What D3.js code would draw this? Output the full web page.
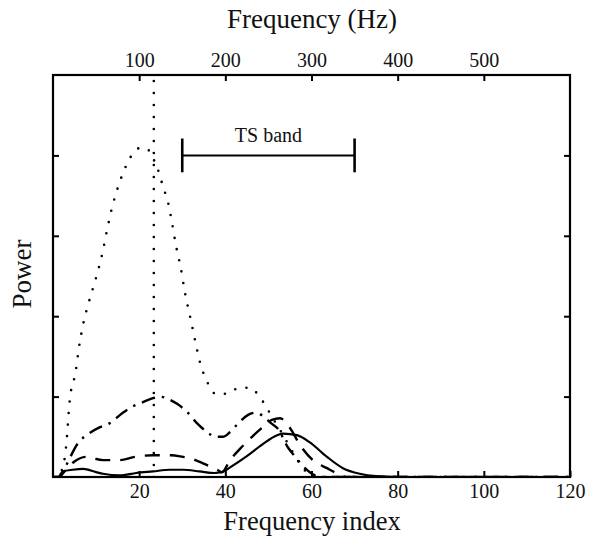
<!DOCTYPE html>
<html>
<head>
<meta charset="utf-8">
<script src="https://cdn.jsdelivr.net/npm/d3@7"></script>
<style>
  html, body { margin: 0; padding: 0; background: #fff; }
  svg { display: block; }
  text { font-family: "Liberation Serif", "Times New Roman", "DejaVu Serif", serif; fill: #111; }
</style>
</head>
<body>
<svg id="chart" width="589" height="538"></svg>
<script>
// Spectral power per frequency index (1 index = 5 Hz)
const dottedIdx = [0, 2.1, 3.0, 3.9, 5.3, 6.0, 7.0, 8.4, 10.0, 11.4, 12.5, 13.7, 15.3, 17.4, 18.8, 20.6, 23.0, 23.7, 24.8, 25.5, 26.5, 27.6, 28.5, 29.7, 30.6, 31.8, 32.9, 34.1, 35.0, 36.2, 37.8, 40.6, 43.2, 45.7, 47.8, 49.4, 50.8, 53.0, 55.0, 56.4, 58.5, 61, 120];
const dottedPow = [0, 0.09, 0.36, 0.96, 1.32, 1.60, 1.90, 2.19, 2.48, 2.77, 3.06, 3.35, 3.64, 3.92, 4.04, 4.10, 4.02, 3.89, 3.76, 3.61, 3.46, 3.17, 2.89, 2.59, 2.30, 2.00, 1.72, 1.43, 1.28, 1.14, 1.03, 1.04, 1.11, 1.11, 1.01, 0.88, 0.75, 0.56, 0.37, 0.24, 0.08, 0, 0];

const dashDotIdx = [0, 1.5, 2.8, 5.8, 8.6, 10.9, 13.2, 16.2, 18.6, 20.4, 23.2, 24.8, 26.7, 28.8, 31.1, 33.4, 35.5, 37.8, 39.4, 41.1, 43.2, 45.2, 47.1, 48.7, 50.6, 52.2, 54.5, 56.1, 58.5, 60.8, 63, 120];
const dashDotPow = [0, 0, 0.12, 0.42, 0.55, 0.62, 0.67, 0.80, 0.88, 0.92, 0.98, 1.00, 0.97, 0.91, 0.81, 0.67, 0.57, 0.50, 0.50, 0.56, 0.68, 0.77, 0.80, 0.76, 0.67, 0.60, 0.37, 0.26, 0.11, 0.02, 0, 0];

const dashedIdx = [0, 1.2, 3.0, 4.9, 7.7, 11.6, 15.5, 19.0, 23.2, 27.4, 30.2, 31.3, 34.8, 38.1, 39.2, 41.1, 43.4, 46.2, 48.7, 50.8, 52.7, 55.0, 57.3, 60.3, 63.6, 66.1, 68, 120];
const dashedPow = [0, 0, 0.09, 0.19, 0.25, 0.21, 0.21, 0.25, 0.27, 0.27, 0.25, 0.24, 0.17, 0.09, 0.06, 0.21, 0.35, 0.50, 0.62, 0.71, 0.73, 0.61, 0.40, 0.21, 0.11, 0.04, 0, 0];

const solidIdx = [0, 1.2, 2.3, 4.6, 7.0, 10.0, 11.6, 15.5, 19.3, 23.2, 27.1, 30.2, 34.0, 37.5, 39.2, 41.1, 45.0, 48.7, 52.0, 53.4, 56.6, 59.6, 63.6, 67.3, 71.2, 75.0, 80, 120];
const solidPow = [0, 0, 0.07, 0.09, 0.10, 0.06, 0.04, 0.02, 0.05, 0.07, 0.09, 0.09, 0.07, 0.05, 0.06, 0.12, 0.26, 0.41, 0.52, 0.54, 0.52, 0.43, 0.25, 0.11, 0.04, 0.01, 0, 0];

// Fundamental-frequency marker and TS band (Hz)
const f0Index = 23.4;
const tsBandHz = [150, 350];
const tsBandLevel = 4.0;
const tsBandLabel = "TS band";

// Axis ticks
const indexTicks = [20, 40, 60, 80, 100, 120];
const hzTicks = [100, 200, 300, 400, 500];
const powerTicks = [1, 2, 3, 4];

const serif = "'Liberation Serif', 'Times New Roman', 'DejaVu Serif', serif";
const svg = d3.select("#chart");
const plotL = 53, plotT = 75, plotR = 570, plotB = 477;

const x = d3.scaleLinear().domain([0, 120]).range([plotL, plotR]);
const xHz = d3.scaleLinear().domain([0, 600]).range([plotL, plotR]);
const y = d3.scaleLinear().domain([0, 5]).range([plotB, plotT]);

svg.append("defs").append("clipPath").attr("id", "plot-clip")
  .append("rect").attr("x", plotL).attr("y", plotT).attr("width", plotR - plotL).attr("height", plotB - plotT);

const line = d3.line().curve(d3.curveMonotoneX);
const pts = (xs, ys) => xs.map((d, i) => [x(d), y(ys[i])]);

const plot = svg.append("g").attr("clip-path", "url(#plot-clip)");

// Solid curve
plot.append("path").attr("d", line(pts(solidIdx, solidPow)))
  .attr("fill", "none").attr("stroke", "#000").attr("stroke-width", 2.2);

// Dashed curve
plot.append("path").attr("d", line(pts(dashedIdx, dashedPow)))
  .attr("fill", "none").attr("stroke", "#000").attr("stroke-width", 2.4)
  .attr("stroke-dasharray", "15 10");

// Dash-dot curve
plot.append("path").attr("d", line(pts(dashDotIdx, dashDotPow)))
  .attr("fill", "none").attr("stroke", "#000").attr("stroke-width", 2.4)
  .attr("stroke-dasharray", "14 7 2.4 7");

// Dotted curve
plot.append("path").attr("d", line(pts(dottedIdx, dottedPow)))
  .attr("fill", "none").attr("stroke", "#000").attr("stroke-width", 2.6)
  .attr("stroke-linecap", "round").attr("stroke-dasharray", "0 11.5");

// Dotted F0 marker
plot.append("line")
  .attr("x1", x(f0Index)).attr("x2", x(f0Index))
  .attr("y1", y(0)).attr("y2", y(5))
  .attr("stroke", "#000").attr("stroke-width", 2.6)
  .attr("stroke-linecap", "round").attr("stroke-dasharray", "0 12");

// TS band bracket
const band = svg.append("g").attr("stroke", "#000").attr("stroke-width", 2);
band.append("line").attr("x1", xHz(tsBandHz[0])).attr("x2", xHz(tsBandHz[1]))
  .attr("y1", y(tsBandLevel)).attr("y2", y(tsBandLevel));
tsBandHz.forEach(h => {
  band.append("line").attr("x1", xHz(h)).attr("x2", xHz(h))
    .attr("y1", y(tsBandLevel + 0.21)).attr("y2", y(tsBandLevel - 0.21)).attr("stroke-width", 2.6);
});
svg.append("text").attr("x", xHz((tsBandHz[0] + tsBandHz[1]) / 2)).attr("y", y(tsBandLevel) - 13)
  .attr("text-anchor", "middle").attr("font-family", serif).attr("font-size", 20).text(tsBandLabel);

// Axes with inward ticks
const styleAxis = g => {
  g.attr("font-family", serif);
  g.select(".domain").remove();
  g.selectAll(".tick line").attr("stroke", "#000").attr("stroke-width", 2);
  g.selectAll(".tick text").attr("font-family", serif).attr("font-size", 20).attr("fill", "#111");
};

svg.append("g").attr("transform", `translate(0,${plotB})`)
  .call(d3.axisBottom(x).tickValues(indexTicks).tickSize(-6).tickPadding(7).tickFormat(d3.format("d")))
  .call(styleAxis);

svg.append("g").attr("transform", `translate(0,${plotT})`)
  .call(d3.axisTop(xHz).tickValues(hzTicks).tickSize(-6).tickPadding(8).tickFormat(d3.format("d")))
  .call(styleAxis);

svg.append("g").attr("transform", `translate(${plotL},0)`)
  .call(d3.axisLeft(y).tickValues(powerTicks).tickSize(-6).tickFormat(""))
  .call(styleAxis);

svg.append("g").attr("transform", `translate(${plotR},0)`)
  .call(d3.axisRight(y).tickValues(powerTicks).tickSize(-6).tickFormat(""))
  .call(styleAxis);

// Frame
svg.append("rect").attr("x", plotL).attr("y", plotT).attr("width", plotR - plotL).attr("height", plotB - plotT)
  .attr("fill", "none").attr("stroke", "#000").attr("stroke-width", 2.2);

// Axis titles
svg.append("text").attr("x", 312).attr("y", 28)
  .attr("text-anchor", "middle").attr("font-family", serif).attr("font-size", 27).text("Frequency (Hz)");
svg.append("text").attr("x", 312).attr("y", 530)
  .attr("text-anchor", "middle").attr("font-family", serif).attr("font-size", 26.5).text("Frequency index");
svg.append("text").attr("transform", `translate(31,${(plotT + plotB) / 2 - 2}) rotate(-90)`)
  .attr("text-anchor", "middle").attr("font-family", serif).attr("font-size", 27).text("Power");
</script>
</body>
</html>
